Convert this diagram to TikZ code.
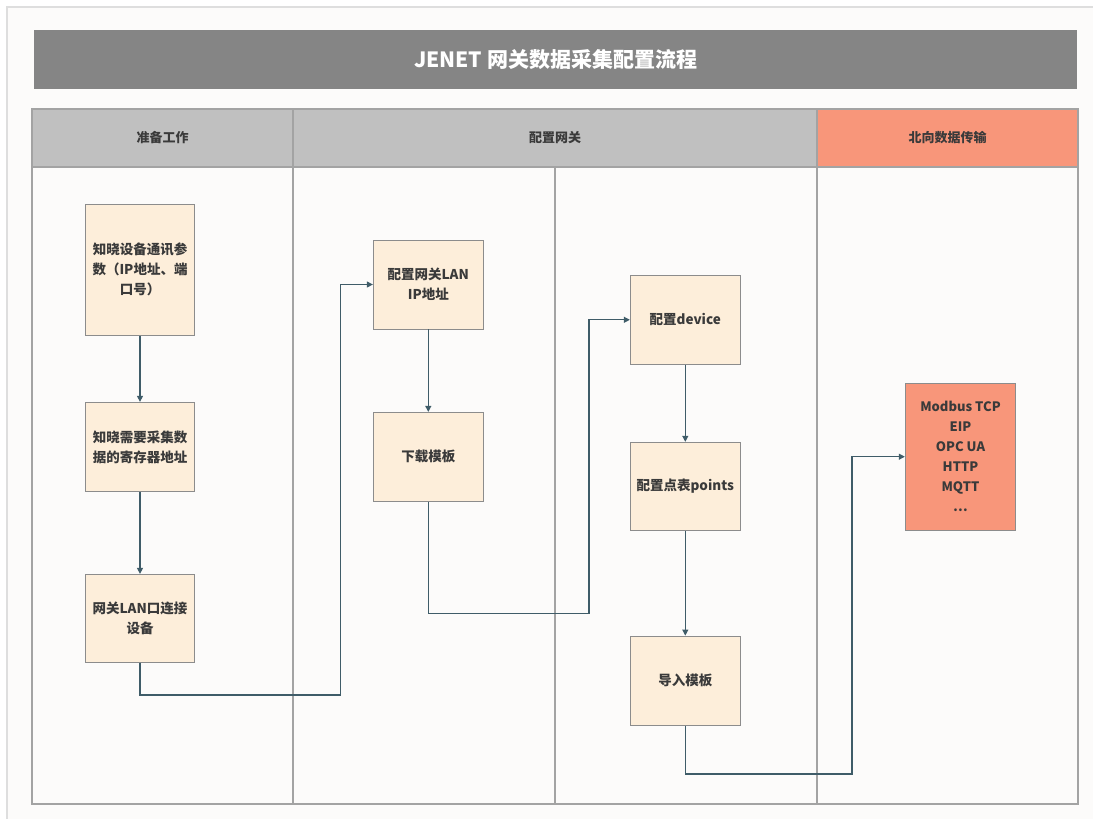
\documentclass[tikz,border=0pt]{standalone}
\usepackage{fontspec}
\setmainfont{Noto Sans CJK SC}
\usetikzlibrary{arrows.meta}
\definecolor{pagebg}{HTML}{FCFBFA}
\definecolor{titlegray}{HTML}{858585}
\definecolor{headgray}{HTML}{C0C0C0}
\definecolor{salmon}{HTML}{F8967A}
\definecolor{boxfill}{HTML}{FDEEDA}
\definecolor{boxline}{HTML}{8C8C8C}
\definecolor{conn}{HTML}{3F5C68}
\definecolor{lane}{HTML}{A3A3A3}
\definecolor{txt}{HTML}{3A3A3A}
\tikzset{
  lanebox/.style={draw=lane, line width=1.2pt},
  stepbox/.style={draw=boxline, line width=0.9pt, fill=boxfill, rectangle, minimum width=109.5pt, inner sep=2pt, align=center, text=txt, font=\fontsize{13.5}{20}\selectfont\bfseries},
  headtext/.style={text=txt, font=\fontsize{13}{16}\selectfont\bfseries},
  flow/.style={draw=conn, line width=1.1pt, -{Triangle[length=6pt,width=6pt]}},
}
\begin{document}
\begin{tikzpicture}[x=1pt,y=-1pt]
\useasboundingbox (0,0) rectangle (1093,819);
\fill[white] (0,0) rectangle (1093,819);
\fill[pagebg] (7,7) rectangle (1093,819);
\draw[color=black!13, line width=1.5pt] (7,819) -- (7,7) -- (1093,7);
% title
\node[fill=titlegray, minimum width=1043pt, minimum height=59pt, inner sep=0pt,
      text=white, font=\fontsize{21}{24}\selectfont\bfseries] (title) at (555.7,59.5) {JENET 网关数据采集配置流程};
% header cells
\fill[headgray] (32,109) rectangle (817,167);
\fill[salmon] (817,109) rectangle (1078,167);
\draw[lanebox] (32,109) rectangle (1078,804);
\draw[lanebox] (32,167) -- (1078,167);
\draw[lanebox] (293,109) -- (293,804);
\draw[lanebox] (555,167) -- (555,804);
\draw[lanebox] (817,109) -- (817,804);
\node[headtext] (h1) at (162.5,138) {准备工作};
\node[headtext] (h2) at (555,138) {配置网关};
\node[headtext] (h3) at (947.5,138) {北向数据传输};
% boxes
\node[stepbox, minimum height=131pt] (A) at (140,269.8) {知晓设备通讯参\\数（IP地址、端\\口号）};
\node[stepbox, minimum height=89.4pt] (B) at (140,447) {知晓需要采集数\\据的寄存器地址};
\node[stepbox, minimum height=87.7pt] (C) at (140,618.2) {网关LAN口连接\\设备};
\node[stepbox, minimum width=110pt, minimum height=89pt] (D) at (428.3,284.5) {配置网关LAN\\IP地址};
\node[stepbox, minimum width=110pt, minimum height=88.7pt] (E) at (428.3,456.7) {下载模板};
\node[stepbox, minimum width=110pt, minimum height=89pt] (F) at (685.3,319.8) {配置device};
\node[stepbox, minimum width=110pt, minimum height=88pt] (G) at (685.3,486.3) {配置点表points};
\node[stepbox, minimum width=110pt, minimum height=89.3pt] (H) at (685.3,680.7) {导入模板};
\node[stepbox, fill=salmon, minimum width=110.4pt, minimum height=146.7pt, font=\fontsize{13}{20}\selectfont\bfseries] (I) at (960.5,456.7) {Modbus TCP\\EIP\\OPC UA\\HTTP\\MQTT\\…};
% connectors
\coordinate (cd) at (340.7,695);
\coordinate (ef) at (589,613.3);
\coordinate (hi) at (852,774);
\draw[flow] (A.south) -- (B.north);
\draw[flow] (B.south) -- (C.north);
\draw[flow] (C.south) |- (cd) |- (D.west);
\draw[flow] (D.south) -- (E.north);
\draw[flow] (E.south) |- (ef) |- (F.west);
\draw[flow] (F.south) -- (G.north);
\draw[flow] (G.south) -- (H.north);
\draw[flow] (H.south) |- (hi) |- (I.west);
\end{tikzpicture}
\end{document}
